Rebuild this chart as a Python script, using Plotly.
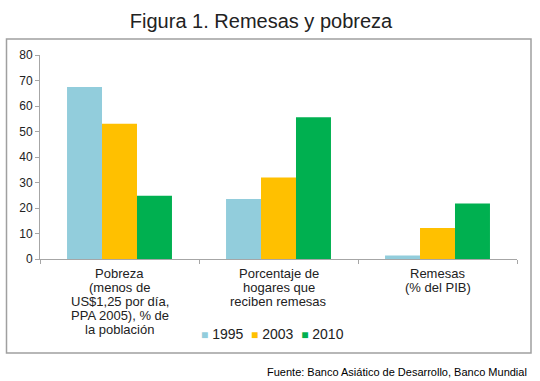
import plotly.graph_objects as go

# ---- data ----
categories = ["Pobreza", "Porcentaje", "Remesas"]
category_lines = [
    ["Pobreza", "(menos de", "US$1,25 por día,", "PPA 2005), % de", "la población"],
    ["Porcentaje de", "hogares que", "reciben remesas"],
    ["Remesas", "(% del PIB)"],
]
years = ["1995", "2003", "2010"]
values_1995 = [67.5, 23.5, 1.4]
values_2003 = [53, 32, 12.2]
values_2010 = [24.8, 55.6, 21.8]
colors = ["#92CDDC", "#FFC000", "#00B050"]
y_ticks = [0, 10, 20, 30, 40, 50, 60, 70, 80]

title_text = "Figura 1. Remesas y pobreza"
source_text = "Fuente: Banco Asiático de Desarrollo, Banco Mundial"

# ---- layout geometry (pixels) ----
W, H = 540, 381
ML, MR, MT, MB = 40, 23, 55, 122
PW = W - ML - MR
PH = H - MT - MB
FONT = "Liberation Sans, Arial, sans-serif"


def px_x(px):
    return (px - ML) / PW


def px_y(py):
    return (H - MB - py) / PH


fig = go.Figure()
for name, vals, col in zip(years, [values_1995, values_2003, values_2010], colors):
    fig.add_trace(go.Bar(x=categories, y=vals, name=name, marker_color=col,
                         marker_line_width=0, showlegend=False))

fig.update_layout(
    width=W, height=H,
    margin=dict(l=ML, r=MR, t=MT, b=MB, pad=0),
    paper_bgcolor="white", plot_bgcolor="white",
    barmode="group", bargap=0.34, bargroupgap=0,
    font=dict(family=FONT, color="#222222"),
    title=dict(text=title_text, x=261 / W, xanchor="center",
               y=1 - 21 / H, yanchor="middle",
               font=dict(size=20, family=FONT, color="#222222")),
)

fig.update_yaxes(range=[0, 80], tickvals=y_ticks, showgrid=False, zeroline=False,
                 showline=True, linecolor="#A6A6A6", linewidth=1,
                 ticks="outside", ticklen=4, tickcolor="#A6A6A6",
                 tickfont=dict(size=12, family=FONT, color="#222222"))
fig.update_xaxes(showgrid=False, showline=True, linecolor="#A6A6A6", linewidth=1,
                 ticks="outside", ticklen=4, tickcolor="#A6A6A6",
                 tickson="boundaries", showticklabels=False)

# category labels (one annotation per line for tight line spacing)
for cat, lines in zip(categories, category_lines):
    for i, line in enumerate(lines):
        fig.add_annotation(x=cat, y=0, xref="x", yref="y", text=line,
                           showarrow=False, xanchor="center", yanchor="middle",
                           yshift=-14 - 14.2 * i,
                           font=dict(size=13, family=FONT, color="#222222"))

# legend as compact text row
legend_parts = []
for name, col in zip(years, colors):
    legend_parts.append(f"<span style='color:{col};font-size:12px'>■</span> {name}")
fig.add_annotation(x=px_x(272), y=px_y(334), xref="paper", yref="paper",
                   text="&nbsp; ".join(legend_parts), showarrow=False,
                   xanchor="center", yanchor="middle",
                   font=dict(size=14, family=FONT, color="#222222"))

# source
fig.add_annotation(x=px_x(529), y=px_y(372), xref="paper", yref="paper",
                   text=source_text, showarrow=False, xanchor="right",
                   yanchor="middle", font=dict(size=11, family=FONT, color="#000000"))

# frame around the chart
fig.add_shape(type="rect", xref="paper", yref="paper",
              x0=px_x(6.5), x1=px_x(531), y0=px_y(353), y1=px_y(39),
              line=dict(color="#A0A0A0", width=1.5), fillcolor="rgba(0,0,0,0)",
              layer="below")

fig.write_html("out.html", config={"displayModeBar": False},
               post_script="document.body.style.margin='0';document.body.style.overflow='hidden';")
